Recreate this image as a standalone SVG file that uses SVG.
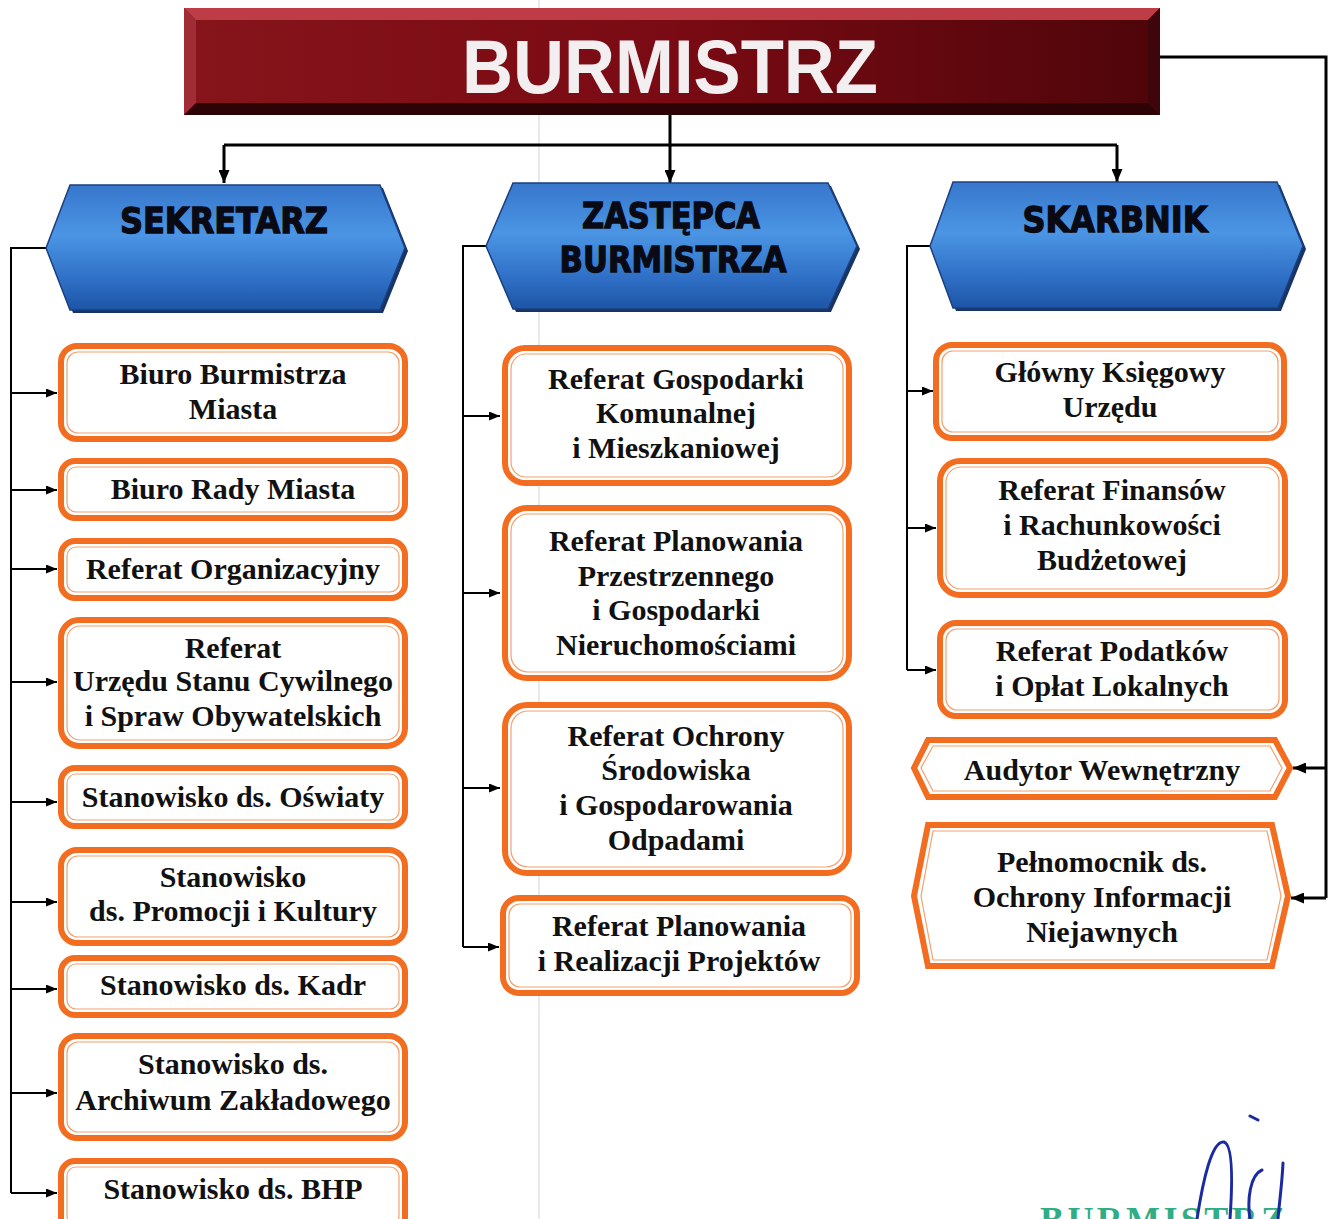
<svg xmlns="http://www.w3.org/2000/svg" width="1336" height="1219" viewBox="0 0 1336 1219">
<defs>
<linearGradient id="redBody" x1="0" y1="0" x2="1" y2="0">
<stop offset="0" stop-color="#85141b"/>
<stop offset="0.5" stop-color="#7a0a13"/>
<stop offset="1" stop-color="#4e050a"/>
</linearGradient>
<linearGradient id="blueHex" x1="0" y1="0" x2="0" y2="1">
<stop offset="0" stop-color="#3777cc"/>
<stop offset="0.4" stop-color="#4b95e4"/>
<stop offset="0.75" stop-color="#2f70c6"/>
<stop offset="1" stop-color="#1d55a6"/>
</linearGradient>
<marker id="ah" markerUnits="userSpaceOnUse" markerWidth="11" markerHeight="9" refX="11" refY="4.5" orient="auto">
<path d="M0,0 L11,4.5 L0,9 z" fill="#000"/>
</marker>
<marker id="ahb" markerUnits="userSpaceOnUse" markerWidth="13" markerHeight="11" refX="13" refY="5.5" orient="auto">
<path d="M0,0 L13,5.5 L0,11 z" fill="#000"/>
</marker>
<style>
.conn{fill:none;stroke:#000;stroke-width:2}
.main{fill:none;stroke:#000;stroke-width:3}
.box{fill:#fff;stroke:#f26d1f;stroke-width:6}
.inner{fill:none;stroke:#f2a070;stroke-width:1.2}
.hex{fill:url(#blueHex);stroke:#1b3f80;stroke-width:1.5}
.hexsh{fill:#173463}
.hl{font-family:"DejaVu Sans",sans-serif;font-weight:bold;font-size:35px;fill:#0a0a14;stroke:#0a0a14;stroke-width:1.3;text-anchor:middle}
.t{font-family:"Liberation Serif","Times New Roman",serif;font-weight:bold;font-size:30px;fill:#111;text-anchor:middle}
</style>
</defs>
<rect width="1336" height="1219" fill="#fff"/>
<line x1="539" y1="0" x2="539" y2="1219" stroke="#e2e2e2" stroke-width="1.5"/>

<g id="burmistrz">
<rect x="184" y="8" width="976" height="107" fill="url(#redBody)"/>
<polygon points="184,8 1160,8 1148,20 196,20" fill="#bd3c45"/>
<polygon points="184,8 196,20 196,103 184,115" fill="#a02d35"/>
<polygon points="184,115 196,103 1148,103 1160,115" fill="#2e0306"/>
<polygon points="1160,8 1148,20 1148,103 1160,115" fill="#3e050a"/>
<text x="462" y="93" font-family="Liberation Sans, Arial, sans-serif" font-weight="bold" font-size="76" fill="#f3eef0" textLength="416" lengthAdjust="spacingAndGlyphs">BURMISTRZ</text>
</g>

<g id="connectors">
<path class="main" d="M670 115 V145 M224 145 H1117"/>
<path class="main" d="M224 145 V183" marker-end="url(#ahb)"/>
<path class="main" d="M670 145 V183" marker-end="url(#ahb)"/>
<path class="main" d="M1117 145 V182" marker-end="url(#ahb)"/>
<path class="main" d="M1160 57 H1326 V898"/>
<path class="main" d="M1326 768 H1293" marker-end="url(#ahb)"/>
<path class="main" d="M1326 898 H1291" marker-end="url(#ahb)"/>
<path class="conn" d="M46 248 H11 V1193"/>
<path class="conn" d="M11 393 H57" marker-end="url(#ah)"/>
<path class="conn" d="M11 490 H57" marker-end="url(#ah)"/>
<path class="conn" d="M11 569 H57" marker-end="url(#ah)"/>
<path class="conn" d="M11 682 H57" marker-end="url(#ah)"/>
<path class="conn" d="M11 802 H57" marker-end="url(#ah)"/>
<path class="conn" d="M11 902 H57" marker-end="url(#ah)"/>
<path class="conn" d="M11 989 H57" marker-end="url(#ah)"/>
<path class="conn" d="M11 1093 H57" marker-end="url(#ah)"/>
<path class="conn" d="M11 1193 H57" marker-end="url(#ah)"/>
<path class="conn" d="M486 246 H463 V947"/>
<path class="conn" d="M463 416 H500" marker-end="url(#ah)"/>
<path class="conn" d="M463 593 H500" marker-end="url(#ah)"/>
<path class="conn" d="M463 788 H500" marker-end="url(#ah)"/>
<path class="conn" d="M463 947 H499" marker-end="url(#ah)"/>
<path class="conn" d="M930 246 H907 V670"/>
<path class="conn" d="M907 391 H933" marker-end="url(#ah)"/>
<path class="conn" d="M907 528 H936" marker-end="url(#ah)"/>
<path class="conn" d="M907 670 H936" marker-end="url(#ah)"/>
</g>

<g id="sekretarz">
<polygon class="hexsh" points="73,188 383,188 408,251 383,313 73,313 49,251"/>
<polygon class="hex" points="70,185 380,185 405,248 380,310 70,310 46,248"/>
<text class="hl" x="224" y="233" textLength="208" lengthAdjust="spacingAndGlyphs">SEKRETARZ</text>
</g>
<g id="zastepca">
<polygon class="hexsh" points="516,186 831,186 860,249 831,312 516,312 489,249"/>
<polygon class="hex" points="513,183 828,183 857,246 828,309 513,309 486,246"/>
<text class="hl" x="671" y="228" textLength="178" lengthAdjust="spacingAndGlyphs">ZASTĘPCA</text>
<text class="hl" x="673" y="272" textLength="227" lengthAdjust="spacingAndGlyphs">BURMISTRZA</text>
</g>
<g id="skarbnik">
<polygon class="hexsh" points="956,185 1280,185 1306,249 1281,311 956,311 933,249"/>
<polygon class="hex" points="953,182 1277,182 1303,246 1278,308 953,308 930,246"/>
<text class="hl" x="1115" y="232" textLength="185" lengthAdjust="spacingAndGlyphs">SKARBNIK</text>
</g>

<g id="biuro-burmistrza">
<rect class="box" x="61" y="346" width="344" height="93" rx="16"/>
<rect class="inner" x="67" y="352" width="332" height="81" rx="11"/>
<text class="t" x="233" y="384">Biuro Burmistrza</text>
<text class="t" x="233" y="419">Miasta</text>
</g>
<g id="biuro-rady">
<rect class="box" x="61" y="461" width="344" height="57" rx="14"/>
<rect class="inner" x="67" y="467" width="332" height="45" rx="9"/>
<text class="t" x="233" y="499">Biuro Rady Miasta</text>
</g>
<g id="ref-organizacyjny">
<rect class="box" x="61" y="541" width="344" height="57" rx="14"/>
<rect class="inner" x="67" y="547" width="332" height="45" rx="9"/>
<text class="t" x="233" y="579">Referat Organizacyjny</text>
</g>
<g id="ref-usc">
<rect class="box" x="61" y="620" width="344" height="126" rx="18"/>
<rect class="inner" x="67" y="626" width="332" height="114" rx="13"/>
<text class="t" x="233" y="658">Referat</text>
<text class="t" x="233" y="691">Urzędu Stanu Cywilnego</text>
<text class="t" x="233" y="726">i Spraw Obywatelskich</text>
</g>
<g id="st-oswiaty">
<rect class="box" x="61" y="768" width="344" height="58" rx="14"/>
<rect class="inner" x="67" y="774" width="332" height="46" rx="9"/>
<text class="t" x="233" y="807">Stanowisko ds. Oświaty</text>
</g>
<g id="st-promocji">
<rect class="box" x="61" y="850" width="344" height="93" rx="16"/>
<rect class="inner" x="67" y="856" width="332" height="81" rx="11"/>
<text class="t" x="233" y="887">Stanowisko</text>
<text class="t" x="233" y="921">ds. Promocji i Kultury</text>
</g>
<g id="st-kadr">
<rect class="box" x="61" y="958" width="344" height="57" rx="14"/>
<rect class="inner" x="67" y="964" width="332" height="45" rx="9"/>
<text class="t" x="233" y="995">Stanowisko ds. Kadr</text>
</g>
<g id="st-archiwum">
<rect class="box" x="61" y="1036" width="344" height="102" rx="16"/>
<rect class="inner" x="67" y="1042" width="332" height="90" rx="11"/>
<text class="t" x="233" y="1074">Stanowisko ds.</text>
<text class="t" x="233" y="1110">Archiwum Zakładowego</text>
</g>
<g id="st-bhp">
<rect class="box" x="61" y="1161" width="344" height="70" rx="14"/>
<rect class="inner" x="67" y="1167" width="332" height="58" rx="9"/>
<text class="t" x="233" y="1199">Stanowisko ds. BHP</text>
</g>

<g id="ref-gospodarki">
<rect class="box" x="505" y="348" width="344" height="135" rx="20"/>
<rect class="inner" x="511" y="354" width="332" height="123" rx="15"/>
<text class="t" x="676" y="389">Referat Gospodarki</text>
<text class="t" x="676" y="423">Komunalnej</text>
<text class="t" x="676" y="458">i Mieszkaniowej</text>
</g>
<g id="ref-planowania-przestrzennego">
<rect class="box" x="505" y="508" width="344" height="170" rx="22"/>
<rect class="inner" x="511" y="514" width="332" height="158" rx="17"/>
<text class="t" x="676" y="551">Referat Planowania</text>
<text class="t" x="676" y="586">Przestrzennego</text>
<text class="t" x="676" y="620">i Gospodarki</text>
<text class="t" x="676" y="655">Nieruchomościami</text>
</g>
<g id="ref-ochrony">
<rect class="box" x="505" y="705" width="344" height="168" rx="22"/>
<rect class="inner" x="511" y="711" width="332" height="156" rx="17"/>
<text class="t" x="676" y="746">Referat Ochrony</text>
<text class="t" x="676" y="780">Środowiska</text>
<text class="t" x="676" y="815">i Gospodarowania</text>
<text class="t" x="676" y="850">Odpadami</text>
</g>
<g id="ref-projektow">
<rect class="box" x="503" y="898" width="354" height="95" rx="16"/>
<rect class="inner" x="509" y="904" width="342" height="83" rx="11"/>
<text class="t" x="679" y="936">Referat Planowania</text>
<text class="t" x="679" y="971">i Realizacji Projektów</text>
</g>

<g id="glowny-ksiegowy">
<rect class="box" x="936" y="345" width="348" height="93" rx="16"/>
<rect class="inner" x="942" y="351" width="336" height="81" rx="11"/>
<text class="t" x="1110" y="382">Główny Księgowy</text>
<text class="t" x="1110" y="417">Urzędu</text>
</g>
<g id="ref-finansow">
<rect class="box" x="940" y="461" width="345" height="134" rx="20"/>
<rect class="inner" x="946" y="467" width="333" height="122" rx="15"/>
<text class="t" x="1112" y="500">Referat Finansów</text>
<text class="t" x="1112" y="535">i Rachunkowości</text>
<text class="t" x="1112" y="570">Budżetowej</text>
</g>
<g id="ref-podatkow">
<rect class="box" x="940" y="623" width="345" height="93" rx="16"/>
<rect class="inner" x="946" y="629" width="333" height="81" rx="11"/>
<text class="t" x="1112" y="661">Referat Podatków</text>
<text class="t" x="1112" y="696">i Opłat Lokalnych</text>
</g>
<g id="audytor">
<polygon class="box" points="928,740 1275,740 1290,768 1275,797 928,797 914,768"/>
<polygon class="inner" points="933,746 1270,746 1282,768 1270,791 933,791 921,768"/>
<text class="t" x="1102" y="780">Audytor Wewnętrzny</text>
</g>
<g id="pelnomocnik">
<polygon class="box" points="928,825 1272,825 1288,896 1272,966 928,966 914,896"/>
<polygon class="inner" points="933,831 1267,831 1281,896 1267,960 933,960 921,896"/>
<text class="t" x="1102" y="872">Pełnomocnik ds.</text>
<text class="t" x="1102" y="907">Ochrony Informacji</text>
<text class="t" x="1102" y="942">Niejawnych</text>
</g>

<g id="stamp">
<text x="1040" y="1232" font-family="Liberation Serif, serif" font-weight="bold" font-size="36" fill="#2fae86" textLength="245" lengthAdjust="spacing">BURMISTRZ</text>
<path d="M1197 1219 C1203 1180 1212 1140 1224 1142 C1234 1145 1232 1190 1230 1219 M1262 1170 C1250 1175 1247 1200 1250 1219 M1283 1163 C1282 1185 1279 1205 1278 1219 M1250 1116 L1258 1120" fill="none" stroke="#1b2aa0" stroke-width="3" stroke-linecap="round"/>
</g>
</svg>
